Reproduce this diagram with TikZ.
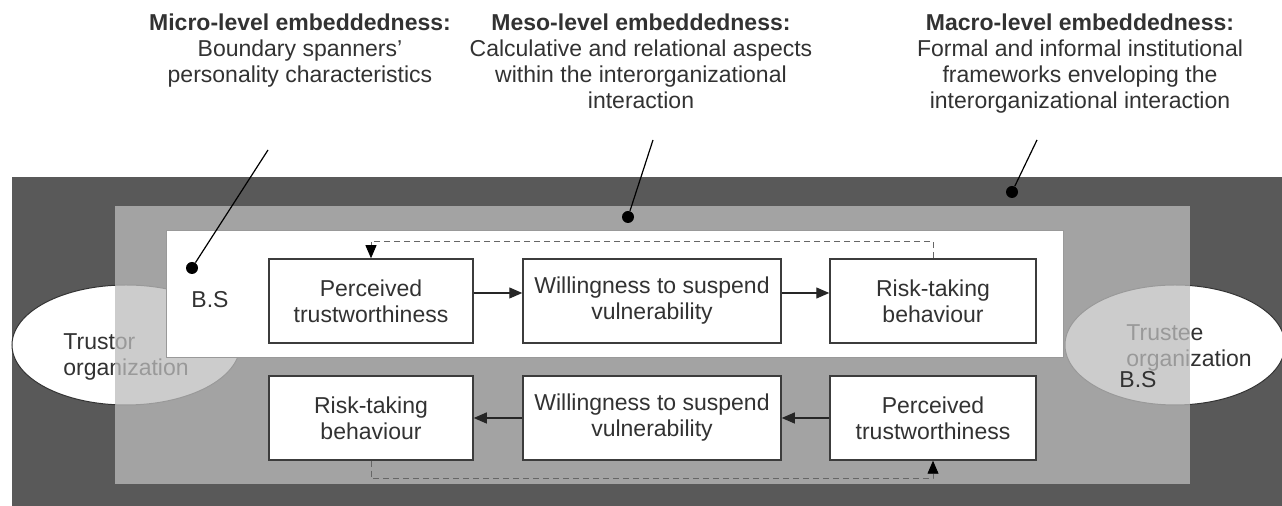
\documentclass[tikz,border=0pt]{standalone}
\usepackage{fontspec}
\setmainfont{Liberation Sans}
\usetikzlibrary{arrows.meta,shapes.geometric}

\definecolor{fonce}{RGB}{89,89,89}
\definecolor{moyen}{RGB}{188,188,188}
\definecolor{trait}{RGB}{60,60,60}
\definecolor{texte}{RGB}{50,50,50}

\tikzset{
  boite/.style={draw=trait, line width=0.75pt, fill=white, minimum height=42pt,
    align=center, text=texte, font=\fontsize{11.5}{13}\selectfont},
  fleche/.style={-{Triangle[length=6.5pt,width=5.5pt]}, line width=0.6pt, draw=black!85},
  retour/.style={-{Triangle[length=6.5pt,width=5.5pt,color=black]}, densely dashed, line width=0.4pt, draw=black!60},
  titre/.style={align=center, anchor=north, inner sep=0pt, text=texte, font=\fontsize{11.5}{13}\selectfont},
  point/.style={circle, fill=black, inner sep=0pt, minimum size=6pt},
  orga/.style={ellipse, draw=black!80, fill=white, line width=0.5pt}
}

\begin{document}
\begin{tikzpicture}[x=0.5pt,y=-0.5pt]
\useasboundingbox (0,0) rectangle (1282,506);

% les cadres et les organisations
\fill[fonce] (12,177) rectangle (1282,506);
\node[orga, minimum width=114pt, minimum height=60pt] (trustor) at (126,345) {};
\node[orga, minimum width=110pt, minimum height=60pt] (trustee) at (1175,345) {};
\node[anchor=west, align=left, inner sep=0pt, text=texte, font=\fontsize{11.5}{13}\selectfont] (torlab) at (63,357) {Trustor\\organization};
\node[anchor=west, align=left, inner sep=0pt, text=texte, font=\fontsize{11.5}{13}\selectfont] (teelab) at (1126,348) {Trustee\\organization};
\fill[moyen, fill opacity=0.75] (115,206) rectangle (1190,484);
\draw[fill=white, draw=black!40] (166,230) rectangle (1063,357);

% les boites
\foreach \n/\x/\w/\t in {hp/371/102/{Perceived\\trustworthiness},
    hw/652/129/{Willingness to suspend\\vulnerability},
    hr/933/103/{Risk-taking\\behaviour}}
    \node[boite, minimum width=\w pt] (\n) at (\x,301) {\t};
\foreach \n/\x/\w/\t in {br/371/102/{Risk-taking\\behaviour},
    bw/652/129/{Willingness to suspend\\vulnerability},
    bp/933/103/{Perceived\\trustworthiness}}
    \node[boite, minimum width=\w pt] (\n) at (\x,418) {\t};

% les fleches
\draw[fleche] ([yshift=4pt]hp.east)--([yshift=4pt]hw.west);
\draw[fleche] ([yshift=4pt]hw.east)--([yshift=4pt]hr.west);
\draw[fleche] (bp)--(bw);
\draw[fleche] (bw)--(br);
\draw[retour] (hr.north) -- ++(0,-17) -| (hp.north);
\draw[retour] (br.south) -- ++(0,18) -| (bp.south);

% B.S
\node[text=texte, font=\fontsize{11.5}{13}\selectfont] (bsg) at (210,300) {B.S};
\node[text=texte, font=\fontsize{11.5}{13}\selectfont] (bsd) at (1138,380) {B.S};

% les niveaux
\node[titre] (micro) at (300,13) {\textbf{Micro-level embeddedness:}\\Boundary spanners'\\personality characteristics};
\node[titre] (meso) at (641,13) {\textbf{Meso-level embeddedness:}\\Calculative and relational aspects\\within the interorganizational\\interaction};
\node[titre] (macro) at (1080,13) {\textbf{Macro-level embeddedness:}\\Formal and informal institutional\\frameworks enveloping the\\interorganizational interaction};

\node[point] (pmicro) at (192,268) {};
\node[point] (pmeso) at (628,217) {};
\node[point] (pmacro) at (1012,192) {};
\coordinate (cmicro) at (268,150);
\coordinate (cmeso) at (653,140);
\coordinate (cmacro) at (1037,140);
\foreach \n in {micro,meso,macro} \draw[line width=0.6pt] (c\n)--(p\n);
\end{tikzpicture}
\end{document}
